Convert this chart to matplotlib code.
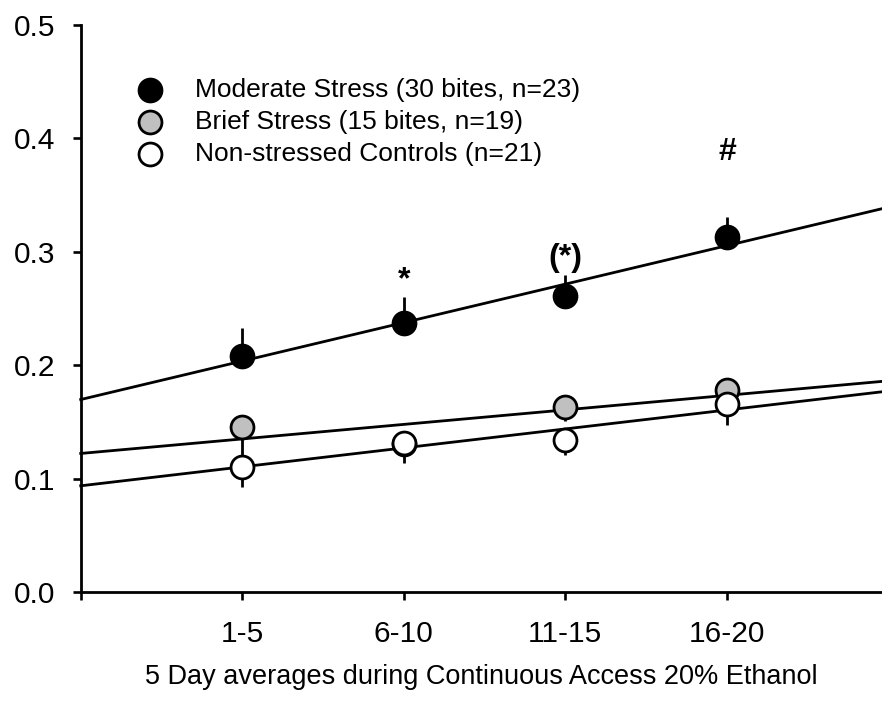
import numpy as np
import matplotlib.pyplot as plt

plt.rcParams['font.family'] = ['Liberation Sans', 'DejaVu Sans']

# 5-day blocks of continuous ethanol access
blocks = ['1-5', '6-10', '11-15', '16-20']
x = np.array([1, 2, 3, 4])

moderate = [0.208, 0.237, 0.261, 0.313]
moderate_err = [0.025, 0.023, 0.019, 0.018]
brief = [0.146, 0.131, 0.163, 0.178]
brief_err = [0.025, 0.010, 0.012, 0.010]
control = [0.111, 0.132, 0.134, 0.166]
control_err = [0.018, 0.018, 0.013, 0.018]

labels = ['Moderate Stress (30 bites, n=23)',
          'Brief Stress (15 bites, n=19)',
          'Non-stressed Controls (n=21)']

# significance marks over the moderate stress group
sig_text = ['*', '(*)', '#']
sig_x = [2, 3, 4]
sig_y = [0.275, 0.295, 0.388]

fig = plt.figure(figsize=(8.82, 7.02), dpi=100)
ax = fig.add_axes([0.0915, 0.156, 0.9085, 0.8084])

xmax = 4.96
xx = np.array([0, xmax])
series = [(moderate, moderate_err, 'black', 1),
          (brief, brief_err, '#c0c0c0', -1),
          (control, control_err, 'white', -1)]

# least-squares trend line for each group
for y, err, color, direction in series:
    k, b = np.polyfit(x, y, 1)
    ax.plot(xx, k * xx + b, color='black', lw=2.0, zorder=1, clip_on=False)

for i, (y, err, color, direction) in enumerate(series):
    y = np.array(y)
    err = np.array(err)
    if direction > 0:
        yerr = [np.zeros_like(err), err]
    else:
        yerr = [err, np.zeros_like(err)]
    ax.errorbar(x, y, yerr=yerr, fmt='none', ecolor='black', elinewidth=2.0,
                capsize=0, zorder=2 + 2 * i)
    ax.plot(x, y, 'o', ms=16.5, mfc=color, mec='black', mew=2.0, zorder=3 + 2 * i)

for t, sx, sy in zip(sig_text, sig_x, sig_y):
    ax.text(sx, sy, t, ha='center', va='center', fontsize=23, fontweight='bold')

# legend drawn by hand
leg_y = [0.8855, 0.829, 0.7727]
for (y, err, color, direction), lab, ly in zip(series, labels, leg_y):
    ax.plot([0.0865], [ly], 'o', ms=16.5, mfc=color, mec='black', mew=2.0,
            transform=ax.transAxes, clip_on=False)
    ax.text(0.143, ly, lab, transform=ax.transAxes, va='center', ha='left',
            fontsize=19)

ax.set_xlim(0, xmax)
ax.set_ylim(0, 0.5)
ax.set_xticks([0, 1, 2, 3, 4])
ax.set_xticklabels([''] + blocks)
ax.set_yticks(np.arange(0, 0.51, 0.1))
ax.set_yticklabels([f'{v:.1f}' for v in np.arange(0, 0.51, 0.1)])
ax.tick_params(axis='both', direction='out', length=6, width=1.9, labelsize=21.5)
ax.tick_params(axis='x', pad=14)
ax.tick_params(axis='y', pad=12)
ax.set_xlabel('5 Day averages during Continuous Access 20% Ethanol', fontsize=19.5,
              labelpad=11)

for s in ['top', 'right']:
    ax.spines[s].set_visible(False)
for s in ['left', 'bottom']:
    ax.spines[s].set_linewidth(2.0)

fig.savefig('out.png', dpi=100)
